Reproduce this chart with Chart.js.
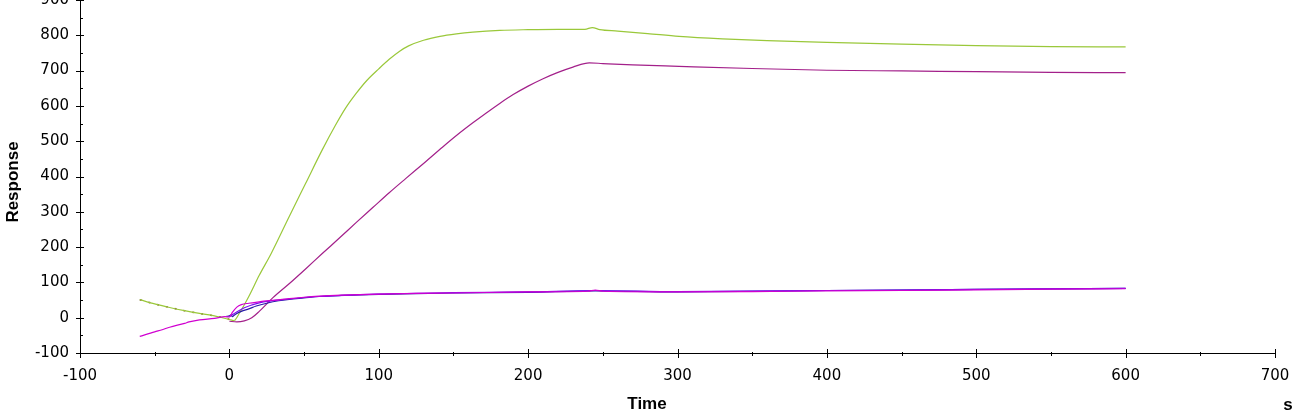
<!DOCTYPE html>
<html>
<head>
<meta charset="utf-8">
<script src="https://cdn.jsdelivr.net/npm/chart.js@4.4.1/dist/chart.umd.min.js"></script>
<style>
html,body{margin:0;padding:0;background:#fff;overflow:hidden;}
#wrap{position:absolute;left:0;top:-15px;width:1296px;height:432px;}
</style>
</head>
<body>
<div id="wrap"><canvas id="c" width="1296" height="432"></canvas></div>
<script>
// ---- data ----
const xTicks = [-100, 0, 100, 200, 300, 400, 500, 600, 700];
const yTicks = [-100, 0, 100, 200, 300, 400, 500, 600, 700, 800, 900];

const greenT = [-60,-50,-40,-30,-20,-10,0,3,7,13,20,28,40,51,62,71,78,85,92,100,107,114,120,130,141,152,163,181,200,220,238,243,248,260,280,301,330,360,400,450,500,550,600];
const greenV = [51,39,29,20,12,5,-5,-8,15,60,120,182,286,380,474,545,595,636,672,705,732,755,770,786,797,804,809,814,816,817,817,822,816,812,805,797,790,785,780,775,771,768,767];

const brownT = [-60,-50,-40,-30,-20,-10,0,2,4];
const brownV = [51,39,29,20,12,5,-5,-12,-8];

const plumT = [0,5,10,15,20,29,40,51,62,74,85,96,107,118,130,141,152,163,172,181,190,200,210,220,230,241,250,270,301,350,400,450,500,550,600];
const plumV = [-10,-12,-9,0,18,56,96,138,181,227,270,312,354,394,437,477,516,552,580,607,632,656,677,695,710,722,720,716,712,706,701,699,697,695,694];

const magentaT = [-60,-50,-45,-40,-30,-27,-20,-10,-3,0,2,5,8,13,20,28,34,40,50,60,75,100,125,150,200,240,245,250,300,350,400,450,500,550,600];
const magentaV = [-53,-40,-34,-27,-16,-12,-6,-2,3,2,15,30,37,41,45,49,51,54,58,61,64,67,69,70,73,75,78,75,73,74,76,77,79,81,82];

const blueT = [-2,0,1,2,3,5,8,13,18,25,33,40,50,60,75,100,150,200,245,300,400,500,600];
const blueV = [4,5,8,3,6,12,18,25,33,41,48,52,56,60,63,66,70,72,76,73,77,80,83];

const violetT = [0,10,20,40,60,100,150,200,245,300,400,500,600];
const violetV = [3,28,42,53,60,67,71,73,77,74,77,80,83];

const SHIFT = 15;

function pts(t, v){ return t.map((x,i)=>({x:x, y:v[i]})); }

function ds(t, v, color, extra){
  return Object.assign({
    data: pts(t, v), borderColor: color, borderWidth: 1.2, pointRadius: 0,
    fill: false, tension: 0.35, cubicInterpolationMode: 'monotone'
  }, extra || {});
}

const tickPlugin = {
  id: 'ticks',
  afterDraw(chart){
    const ctx = chart.ctx, xs = chart.scales.x, ys = chart.scales.y;
    const ca = chart.chartArea;
    ctx.save();
    ctx.strokeStyle = '#000'; ctx.lineWidth = 1;
    ctx.beginPath();
    for (let v = -100; v <= 700; v += 50){
      const p = Math.round(xs.getPixelForValue(v)) + 0.5;
      const major = v % 100 === 0;
      ctx.moveTo(p, ca.bottom - (major ? 4 : 1));
      ctx.lineTo(p, ca.bottom + (major ? 5 : 3));
    }
    for (let v = -100; v <= 900; v += 50){
      const p = Math.round(ys.getPixelForValue(v)) + 0.5;
      const major = v % 100 === 0;
      ctx.moveTo(ca.left - (major ? 4 : 0), p);
      ctx.lineTo(ca.left + (major ? 4 : 3), p);
    }
    ctx.stroke();
    // axis titles
    ctx.fillStyle = '#000';
    ctx.font = 'bold 17px "Liberation Sans", Arial, sans-serif';
    ctx.textAlign = 'center'; ctx.textBaseline = 'middle';
    ctx.fillText('Time', 647, 404 + SHIFT);
    ctx.fillText('s', 1288, 405 + SHIFT);
    ctx.translate(13, 182 + SHIFT);
    ctx.rotate(-Math.PI/2);
    ctx.fillText('Response', 0, 0);
    ctx.restore();
  }
};

const tickFont = { size: 15, family: '"DejaVu Sans", Verdana, sans-serif' };

new Chart(document.getElementById('c'), {
  type: 'line',
  data: {
    datasets: [
      ds(magentaT, magentaV, '#d000d0'),
      ds(violetT, violetV, '#7a10f0'),
      ds(blueT, blueV, '#2a1aa8'),
      ds(plumT, plumV, '#a3208a'),
      ds(greenT, greenV, '#9ac83a'),
      ds(brownT, brownV, '#7a4a2a', {borderDash:[2,7], borderWidth:1.5})
    ]
  },
  options: {
    responsive: false,
    animation: false,
    devicePixelRatio: 1,
    layout: { padding: { top: SHIFT, right: 21, left: 0, bottom: 0 } },
    plugins: { legend: { display: false }, tooltip: { enabled: false } },
    scales: {
      x: {
        type: 'linear', min: -100, max: 700,
        afterBuildTicks(s){ s.ticks = xTicks.map(v=>({value:v})); },
        afterFit(s){ s.height = 64; s.paddingLeft = 0; s.paddingRight = 0; },
        grid: { display: true, drawOnChartArea: false, drawTicks: false },
        border: { display: true, color: '#000', width: 1 },
        ticks: { color: '#000', padding: 14, maxRotation: 0, font: tickFont }
      },
      y: {
        type: 'linear', min: -100, max: 900,
        afterBuildTicks(s){ s.ticks = yTicks.map(v=>({value:v})); },
        afterFit(s){ s.width = 80; s.paddingTop = 0; s.paddingBottom = 0; },
        grid: { display: true, drawOnChartArea: false, drawTicks: false },
        border: { display: true, color: '#000', width: 1 },
        ticks: { color: '#000', padding: 11, font: tickFont }
      }
    }
  },
  plugins: [tickPlugin]
});
</script>
</body>
</html>
